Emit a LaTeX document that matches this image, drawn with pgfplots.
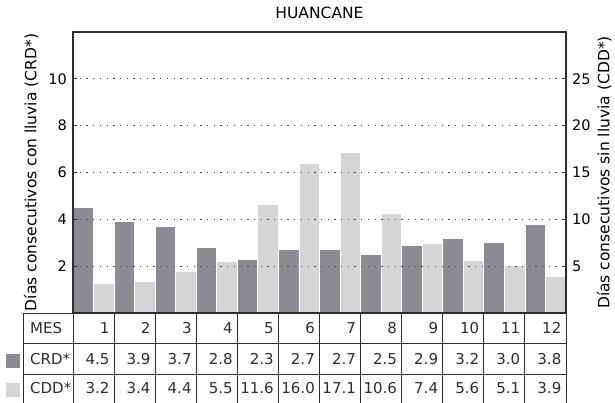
\documentclass[border=0pt]{standalone}
\usepackage{fontspec}
\setmainfont{DejaVu Sans}
\usepackage{pgfplots}
\usepackage{pgfplotstable}
\pgfplotsset{compat=1.18}
\definecolor{crdc}{RGB}{140,140,144}
\definecolor{cddc}{RGB}{213,213,215}
\definecolor{framec}{RGB}{45,45,45}
\pgfplotstableread{
m crd cdd
1 4.5 3.2
2 3.9 3.4
3 3.7 4.4
4 2.8 5.5
5 2.3 11.6
6 2.7 16.0
7 2.7 17.1
8 2.5 10.6
9 2.9 7.4
10 3.2 5.6
11 3.0 5.1
12 3.8 3.9
}\datatable

\begin{document}
\begin{tikzpicture}
\path[use as bounding box] (-73bp,-90bp) rectangle (542bp,313bp);
\pgfplotsset{
  common/.style={
    scale only axis, width=493bp, height=281bp,
    xmin=0.5, xmax=12.5, xtick=\empty,
    at={(0,0)}, anchor=south west,
    axis on top,
    axis line style={draw=framec, line width=1.4bp},
    major tick length=4bp,
    tick style={draw=framec, line width=1bp},
    tick align=inside,
    /pgf/number format/assume math mode=true,
    ticklabel style={font=\fontsize{14.5bp}{17bp}\selectfont, inner sep=0pt},
    label style={font=\fontsize{15.5bp}{18bp}\selectfont},
    ybar, bar width=20.54bp,
  },
}
\begin{axis}[common,
  ymin=0, ymax=12, ytick={2,4,...,10}, ytick pos=left,
  yticklabel style={xshift=-6bp},
  ylabel={Días consecutivos con lluvia (CRD*)},
  ylabel style={at={(axis description cs:-0.07444,0.5)}, anchor=base},
  title={HUANCANE},
  title style={font=\fontsize{15.5bp}{18bp}\selectfont, at={(axis description cs:0.5,1.0285)}, anchor=base, inner sep=0pt},
]
\addplot[fill=crdc, draw=white, line width=0.8bp, bar shift=-10.27bp] table[x=m,y=crd]{\datatable};
\end{axis}
\begin{axis}[common,
  ymin=0, ymax=30, ytick={5,10,...,25}, ytick pos=right, yticklabel pos=right,
  yticklabel style={xshift=6bp},
  ymajorgrids, grid style={draw=framec!85, line width=1.1bp, dash pattern=on 1.3bp off 5.4bp},
  ylabel={Días consecutivos sin lluvia (CDD*)},
  ylabel style={at={(axis description cs:1.0882,0.5)}, anchor=base},
]
\addplot[fill=cddc, draw=white, line width=0.8bp, bar shift=10.27bp] table[x=m,y=cdd]{\datatable};
\end{axis}
% table below the chart
\draw[framec, line width=1bp] (-49bp,0) -- (493bp,0);
\draw[framec, line width=1bp] (-49bp,-30bp) -- (493bp,-30bp);
\draw[framec, line width=1bp] (-49bp,-61bp) -- (493bp,-61bp);
\draw[framec, line width=1bp] (-49bp,0) -- (-49bp,-90bp);
\foreach \k in {0,...,12}{
  \draw[framec, line width=1bp] ({\k*41.0833bp},0) -- ({\k*41.0833bp},-90bp);
}
\begin{scope}[every node/.style={font=\fontsize{15bp}{18bp}\selectfont, inner sep=0pt, text=framec}]
\node[anchor=west] at (-43bp,-15bp) {MES};
\node[anchor=west] at (-43bp,-46bp) {CRD*};
\node[anchor=west] at (-43bp,-75.5bp) {CDD*};
\foreach \i in {0,...,11}{
  \pgfplotstablegetelem{\i}{m}\of\datatable
  \edef\mval{\pgfplotsretval}
  \node[anchor=east] at ({(\i+1)*41.0833bp-4.5bp},-15bp) {\mval};
  \pgfplotstablegetelem{\i}{crd}\of\datatable
  \node[anchor=east] at ({(\i+1)*41.0833bp-4.5bp},-46bp) {\pgfmathprintnumber[fixed,fixed zerofill,precision=1,assume math mode=true]{\pgfplotsretval}};
  \pgfplotstablegetelem{\i}{cdd}\of\datatable
  \node[anchor=east] at ({(\i+1)*41.0833bp-4.5bp},-75.5bp) {\pgfmathprintnumber[fixed,fixed zerofill,precision=1,assume math mode=true]{\pgfplotsretval}};
}
\end{scope}
\fill[crdc] (-67bp,-41bp) rectangle (-53bp,-55bp);
\fill[cddc] (-67bp,-70bp) rectangle (-53bp,-84bp);
\end{tikzpicture}
\end{document}
